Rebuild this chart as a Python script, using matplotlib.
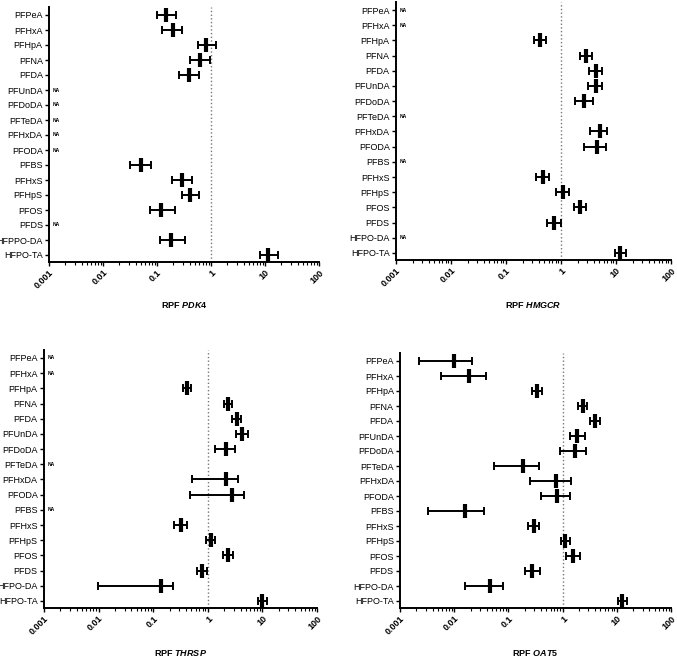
import numpy as np
import matplotlib
matplotlib.use("Agg")
import matplotlib.pyplot as plt
from matplotlib.ticker import LogLocator, NullFormatter, FixedLocator
import matplotlib.transforms as mtransforms

plt.rcParams['font.family'] = ['Liberation Sans', 'DejaVu Sans']
plt.rcParams['mathtext.fontset'] = 'custom'
plt.rcParams['mathtext.it'] = 'Liberation Sans:italic:bold'
plt.rcParams['mathtext.rm'] = 'Liberation Sans:bold'

# compounds (top to bottom)
compounds = ["PFPeA", "PFHxA", "PFHpA", "PFNA", "PFDA", "PFUnDA", "PFDoDA", "PFTeDA",
             "PFHxDA", "PFODA", "PFBS", "PFHxS", "PFHpS", "PFOS", "PFDS", "HFPO-DA", "HFPO-TA"]
compounds_pdk4 = ["PFPeA", "PFHxA", "PFHpA", "PFNA", "PFDA", "PFUnDA", "PFDoDA", "PFTeDA",
                  "PFHxDA", "PFODA", "PFBS", "PFHxS", "PFHpS", "PFOS", "PFDS", "HFPPO-DA", "HFPO-TA"]
na = np.nan

# RPF PDK4
pdk4_mid = [0.149, 0.195, 0.82, 0.617, 0.392, na, na, na, na, na, 0.0513, 0.286, 0.414, 0.120, na, 0.179, 11.5]
pdk4_lo = [0.100, 0.126, 0.566, 0.414, 0.255, na, na, na, na, na, 0.032, 0.187, 0.286, 0.073, na, 0.112, 7.96]
pdk4_hi = [0.228, 0.294, 1.22, 0.944, 0.600, na, na, na, na, na, 0.0785, 0.445, 0.600, 0.212, na, 0.325, 17.4]

# RPF HMGCR
hmgcr_mid = [na, na, 0.415, 2.90, 4.24, 4.24, 2.60, na, 5.08, 4.60, na, 0.465, 1.106, 2.23, 0.748, na, 11.9]
hmgcr_lo = [na, na, 0.323, 2.26, 3.20, 3.11, 1.78, na, 3.39, 2.60, na, 0.347, 0.826, 1.73, 0.565, na, 9.5]
hmgcr_hi = [na, na, 0.542, 3.73, 5.45, 5.60, 3.84, na, 6.82, 6.71, na, 0.617, 1.38, 2.90, 0.99, na, 14.9]

# RPF THRSP
thrsp_mid = [na, na, 0.416, 2.38, 3.38, 4.17, 2.15, na, 2.18, 2.77, na, 0.318, 1.13, 2.38, 0.773, 0.137, 9.97]
thrsp_lo = [na, na, 0.347, 1.98, 2.81, 3.33, 1.37, na, 0.507, 0.466, na, 0.237, 0.94, 1.90, 0.634, 0.0098, 8.3]
thrsp_hi = [na, na, 0.499, 2.77, 4.11, 5.45, 3.10, na, 3.57, 4.60, na, 0.416, 1.355, 2.90, 0.968, 0.227, 12.1]

# RPF OAT5
oat5_mid = [0.00973, 0.0186, 0.337, 2.33, 3.88, 1.84, 1.69, 0.184, 0.743, 0.798, 0.016, 0.292, 1.12, 1.55, 0.277, 0.0453, 12.5]
oat5_lo = [0.00224, 0.0056, 0.273, 1.91, 3.14, 1.35, 0.88, 0.0545, 0.254, 0.405, 0.0033, 0.23, 0.92, 1.17, 0.20, 0.0157, 10.4]
oat5_hi = [0.0214, 0.0378, 0.417, 2.85, 4.87, 2.54, 2.73, 0.372, 1.44, 1.38, 0.0357, 0.366, 1.38, 2.11, 0.378, 0.081, 15.5]

W, H = 677, 661
fig = plt.figure(figsize=(W / 100, H / 100), dpi=100)


def px_axes(left, top, right, bottom):
    return fig.add_axes([left / W, 1 - bottom / H, (right - left) / W, (bottom - top) / H])


def panel(box, labels, mid, lo, hi, gene, label_y):
    ax = px_axes(*box)
    mid = np.array(mid)
    lo = np.array(lo)
    hi = np.array(hi)
    y = np.arange(len(labels))
    ok = ~np.isnan(mid)
    ax.errorbar(mid[ok], y[ok], xerr=[mid[ok] - lo[ok], hi[ok] - mid[ok]], fmt='none',
                ecolor='black', elinewidth=1.4, capsize=3, capthick=1.4, zorder=3)
    ax.plot(mid[ok], y[ok], linestyle='none', marker='|', markersize=10,
            markeredgewidth=3, color='black', zorder=4)
    trans = mtransforms.blended_transform_factory(ax.transAxes, ax.transData)
    for yi in y[~ok]:
        ax.text(0.015, yi, "NA", transform=trans, fontsize=3.6, fontweight='bold',
                va='center', ha='left')
    ax.axvline(1, color='#777777', linestyle=':', linewidth=1, zorder=1)
    ax.set_xscale('log')
    ax.set_xlim(0.001, 100)
    ax.set_ylim(16.45, -0.55)
    ax.set_yticks(y)
    ax.set_yticklabels(labels, fontsize=6.5)
    ax.xaxis.set_major_locator(FixedLocator([0.001, 0.01, 0.1, 1, 10, 100]))
    ax.set_xticklabels(["0.001", "0.01", "0.1", "1", "10", "100"], fontsize=6.5,
                       fontweight='bold', rotation=45, ha='right', rotation_mode='anchor')
    ax.xaxis.set_minor_locator(LogLocator(base=10, subs=np.arange(2, 10), numticks=20))
    ax.xaxis.set_minor_formatter(NullFormatter())
    for s in ['top', 'right']:
        ax.spines[s].set_visible(False)
    for s in ['left', 'bottom']:
        ax.spines[s].set_linewidth(1.4)
    ax.tick_params(axis='both', which='major', length=3, width=1, pad=1.5)
    ax.tick_params(axis='x', which='minor', length=2, width=0.8)
    ax.tick_params(axis='y', which='minor', left=False)
    xc = (box[0] + box[2]) / 2 / W
    fig.text(xc, 1 - label_y / H, "RPF $\\mathit{" + gene + "}$", fontsize=6.5,
             fontweight='bold', ha='center', va='center')
    return ax


panel((49, 6.75, 319, 261.75), compounds_pdk4, pdk4_mid, pdk4_lo, pdk4_hi, "PDK4", 305)
panel((396, 1.65, 671, 259.8), compounds, hmgcr_mid, hmgcr_lo, hmgcr_hi, "HMGCR", 305)
panel((44, 349.6, 317, 607.8), compounds, thrsp_mid, thrsp_lo, thrsp_hi, "THRSP", 653)
panel((400, 352.75, 671, 607.75), compounds, oat5_mid, oat5_lo, oat5_hi, "OAT5", 653)

fig.savefig("out.png", dpi=100)
